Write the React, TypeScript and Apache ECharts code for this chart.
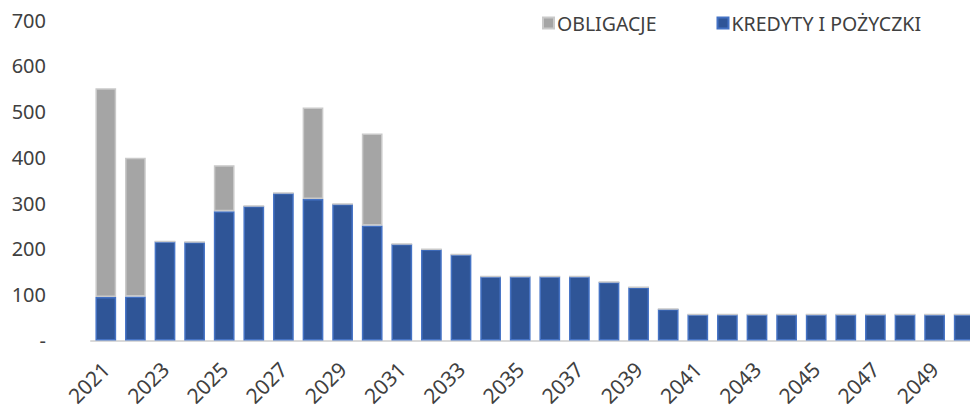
import React, { useEffect, useRef } from "react";
import * as echarts from "echarts";

const years = [
  "2021", "2022", "2023", "2024", "2025", "2026", "2027", "2028", "2029", "2030",
  "2031", "2032", "2033", "2034", "2035", "2036", "2037", "2038", "2039", "2040",
  "2041", "2042", "2043", "2044", "2045", "2046", "2047", "2048", "2049", "2050",
];
const kredyty = [
  95, 96, 216, 215, 282, 294, 322, 309, 298, 251,
  211, 199, 188, 140, 140, 140, 140, 128, 116, 69,
  57, 57, 57, 57, 57, 57, 57, 57, 57, 57,
];
const obligacje = [
  456, 303, 0, 0, 101, 0, 0, 200, 0, 201,
  0, 0, 0, 0, 0, 0, 0, 0, 0, 0,
  0, 0, 0, 0, 0, 0, 0, 0, 0, 0,
];
const seriesNames = ["KREDYTY I POŻYCZKI", "OBLIGACJE"];
const legendOrder = ["OBLIGACJE", "KREDYTY I POŻYCZKI"];

const FONT = "Noto Sans";

export default function App() {
  const ref = useRef<HTMLDivElement>(null);
  useEffect(() => {
    if (!ref.current) return;
    const chart = echarts.init(ref.current, null, { renderer: "svg" });
    chart.setOption({
      animation: false,
      backgroundColor: "#ffffff",
      textStyle: { fontFamily: FONT },
      legend: {
        data: legendOrder,
        left: 537,
        top: 8,
        itemWidth: 11,
        itemHeight: 11,
        itemGap: 60,
        icon: "rect",
        textStyle: { fontFamily: FONT, fontSize: 19.5, color: "#404040", padding: [0, 0, 0, -2] },
      },
      grid: { left: 91, right: 0, top: 20, bottom: 67, containLabel: false },
      xAxis: {
        type: "category",
        data: years,
        axisLine: { show: true, lineStyle: { color: "#D9D9D9", width: 2 } },
        axisTick: { show: false },
        axisLabel: {
          interval: 1,
          rotate: 45,
          fontFamily: FONT,
          fontSize: 21,
          color: "#404040",
          margin: 25,
        },
      },
      yAxis: {
        type: "value",
        min: 0,
        max: 700,
        interval: 100,
        splitLine: { show: false },
        axisLine: { show: false },
        axisTick: { show: false },
        axisLabel: {
          fontFamily: FONT,
          fontSize: 20,
          color: "#404040",
          margin: 45,
          formatter: (v: number) => (v === 0 ? "-" : String(v)),
        },
      },
      series: [
        {
          name: seriesNames[0],
          type: "bar",
          stack: "total",
          data: kredyty,
          barCategoryGap: "30%",
          itemStyle: { color: "#2F5597", borderColor: "#4472C4", borderWidth: 1.5 },
        },
        {
          name: seriesNames[1],
          type: "bar",
          stack: "total",
          data: obligacje,
          barCategoryGap: "30%",
          itemStyle: { color: "#A5A5A5", borderColor: "#C9C9C9", borderWidth: 1.5 },
        },
      ],
    });
    return () => chart.dispose();
  }, []);
  return (
    <div style={{ position: "fixed", left: 0, top: 0, width: 970, height: 409, overflow: "hidden", background: "#fff" }}>
      <div ref={ref} style={{ width: 979, height: 409 }} />
    </div>
  );
}
